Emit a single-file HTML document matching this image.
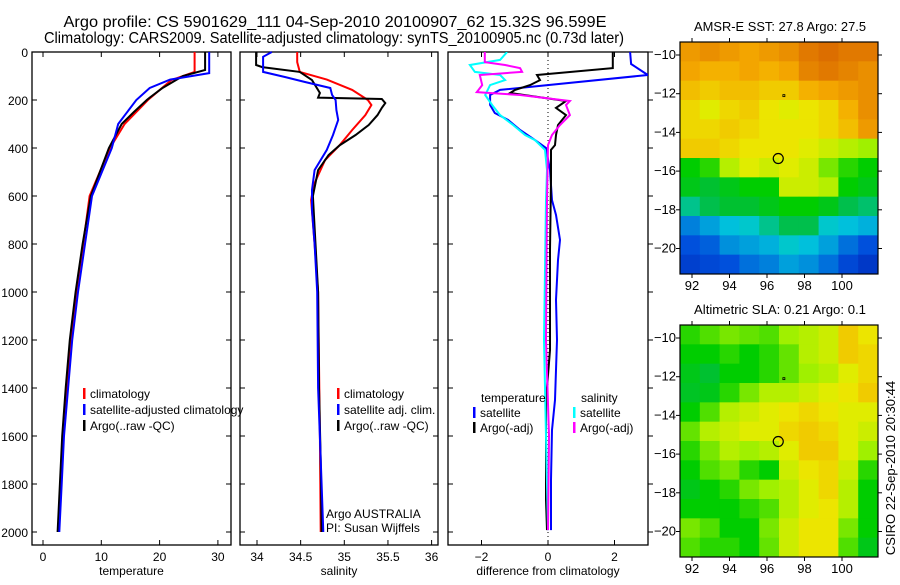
<!DOCTYPE html>
<html><head><meta charset="utf-8"><style>
body{margin:0;background:#fff;}
svg{font-family:"Liberation Sans",sans-serif;}
</style></head><body>
<svg id="fig" width="900" height="580" viewBox="0 0 900 580" xmlns="http://www.w3.org/2000/svg">
<rect width="900" height="580" fill="#fff"/>
<text x="335" y="27" font-size="16" text-anchor="middle" textLength="543" lengthAdjust="spacingAndGlyphs">Argo profile: CS 5901629_111 04-Sep-2010 20100907_62 15.32S 96.599E</text>
<text x="334" y="43" font-size="16" text-anchor="middle" textLength="580" lengthAdjust="spacingAndGlyphs">Climatology: CARS2009. Satellite-adjusted climatology: synTS_20100905.nc (0.73d later)</text>
<g id="g"></g>
<text transform="translate(895,468) rotate(-90)" font-size="13" text-anchor="middle">CSIRO 22-Sep-2010 20:30:44</text>
</svg>
<script>
// ---- Panel 1: temperature ----
const tClimDepth=[0,83,117,200,300,400,600,800,1000,1200,1400,1600,1800,2000];
const tClimVal=[26,26,22,18,14,11.5,8,6.9,5.7,4.8,4.1,3.4,3.1,2.7];
const tArgoDepth=[0,75,100,150,190,200,250,300,400,600,800,1000,1200,1400,1600,1800,2000];
const tArgoVal=[27.8,27.8,24,20.5,18.3,17.8,15.6,13.5,11.3,8.2,6.8,5.6,4.6,3.9,3.3,2.9,2.5];
const tSatDepth=[0,88,115,150,200,300,400,600,800,1000,1200,1400,1600,1800,2000];
const tSatVal=[28.5,28.5,21.8,18.3,16,12.9,11.8,8.4,7.2,6,5,4.3,3.6,3.2,2.8];
const tTicks=[0,10,20,30];
// ---- Panel 2: salinity ----
const sClimDepth=[0,42,83,115,158,200,221,263,325,387,450,554,617,800,1000,1300,1600,2000];
const sClimVal=[34.46,34.46,34.49,34.8,35.09,35.27,35.31,35.24,35.09,34.95,34.78,34.65,34.62,34.66,34.70,34.71,34.72,34.73];
const sArgoDepth=[0,54,63,83,117,171,190,196,213,233,263,304,346,388,429,492,600,800,1000,1400,1700,2000];
const sArgoVal=[33.99,33.99,34.06,34.49,34.63,34.72,34.7,35.43,35.47,35.43,35.38,35.28,35.13,34.95,34.82,34.7,34.64,34.67,34.7,34.71,34.73,34.74];
const sSatDepth=[0,20,83,104,125,150,179,200,242,283,346,408,492,575,658,800,1000,1400,1800,2000];
const sSatVal=[34.17,34.07,34.07,34.32,34.55,34.84,34.86,34.9,34.91,34.93,34.87,34.8,34.66,34.63,34.63,34.66,34.69,34.7,34.74,34.76];
const sTicks=[34,34.5,35,35.5,36];
// ---- Panel 3: differences ----
const dTSatDepth=[0,50,96,158,179,221,254,283,325,367,400,492,617,679,783,867,1033,1200,1450,1575,1783,1992];
const dTSatVal=[2.47,2.5,3.0,-1.44,-1.74,-1.74,-1.6,-1.2,-0.84,-0.39,-0.06,0.06,0.12,0.24,0.36,0.3,0.24,0.27,0.21,0.12,0.09,0.09];
const dTArgoDepth=[0,67,96,117,138,158,171,204,233,263,304,346,388,408,533,825,1242,1450,1867,1992];
const dTArgoVal=[1.95,1.95,-0.33,-0.24,-0.54,-0.99,-1.14,0.54,0.24,0.54,0.3,0.24,0.21,0.09,0.09,0.06,0.06,-0.06,-0.06,-0.03];
const dSSatDepth=[0,33,54,83,96,117,138,179,221,263,304,346,367,408,492,617,1200,1600,1992];
const dSSatVal=[-1.23,-1.44,-2.35,-2.2,-1.44,-1.29,-1.74,-1.89,-1.68,-1.44,-1.05,-0.69,-0.39,-0.09,-0.03,-0.06,-0.12,-0.06,0];
const dSArgoDepth=[0,42,54,67,83,96,138,167,179,204,221,263,304,346,388,617,1200,1600,1992];
const dSArgoVal=[-1.9,-1.9,-1.29,-0.84,-0.78,-2.05,-1.98,-2.14,-0.84,0.66,0.54,0.66,0.36,0.12,0,-0.03,-0.06,0.03,0];
const dTicks=[-2,0,2];
const depthTicks=[0,200,400,600,800,1000,1200,1400,1600,1800,2000];
// ---- Maps (colour index 0..1, rows north->south) ----
const sstGrid=[
[.78,.8,.78,.76,.78,.8,.84,.86,.84,.84],
[.76,.74,.74,.76,.74,.76,.82,.84,.82,.8],
[.72,.7,.72,.72,.7,.7,.74,.76,.78,.8],
[.68,.64,.68,.7,.66,.64,.66,.68,.74,.8],
[.68,.68,.7,.68,.66,.66,.66,.68,.72,.78],
[.7,.7,.68,.66,.66,.66,.64,.62,.6,.58],
[.5,.52,.6,.64,.62,.64,.62,.56,.52,.5],
[.48,.46,.48,.5,.5,.62,.62,.6,.5,.48],
[.4,.44,.46,.46,.48,.5,.5,.48,.44,.42],
[.26,.3,.34,.36,.4,.44,.44,.36,.34,.32],
[.2,.22,.28,.3,.32,.36,.34,.3,.24,.2],
[.16,.18,.2,.24,.26,.3,.28,.24,.18,.14]];
const slaGrid=[
[.52,.54,.56,.55,.54,.58,.6,.62,.7,.66],
[.5,.5,.52,.5,.52,.55,.6,.62,.7,.68],
[.48,.46,.5,.5,.52,.55,.58,.6,.64,.68],
[.47,.48,.52,.56,.6,.6,.62,.64,.66,.7],
[.5,.54,.6,.62,.64,.66,.68,.66,.64,.64],
[.55,.6,.62,.64,.64,.68,.7,.68,.64,.62],
[.52,.56,.6,.58,.6,.64,.7,.7,.64,.58],
[.5,.54,.56,.52,.5,.62,.66,.68,.62,.52],
[.48,.5,.52,.56,.58,.6,.64,.68,.6,.5],
[.5,.5,.5,.52,.54,.6,.64,.66,.6,.5],
[.56,.54,.5,.5,.56,.62,.66,.66,.56,.5],
[.54,.52,.52,.5,.55,.62,.66,.66,.54,.48]];
const lonTicks=[92,94,96,98,100];
const latTicks=[-10,-12,-14,-16,-18,-20];
const floatPos=[96.6,-15.35];
const prevPos=[96.9,-12.1];

const NS='http://www.w3.org/2000/svg';
const G=document.getElementById('g');
function mk(tag,attrs,parent){const e=document.createElementNS(NS,tag);for(const k in attrs)e.setAttribute(k,attrs[k]);(parent||G).appendChild(e);return e;}
const yD=d=>52+d*0.24;

function panel(name,x0,x1,xScale,ticks,fmt,label,leftLabels,rightOut){
  const g=mk('g',{});
  
  
  const fr=mk('rect',{x:x0,y:52,width:x1-x0,height:493,fill:'none',stroke:'#000','stroke-width':1.3},g);
  
  
  depthTicks.forEach(d=>{
    const y=yD(d);
    mk('line',{x1:x0,x2:x0+5,y1:y,y2:y,stroke:'#000'},g);
    if(rightOut) mk('line',{x1:x1,x2:x1+5,y1:y,y2:y,stroke:'#000'},g);
    else mk('line',{x1:x1-5,x2:x1,y1:y,y2:y,stroke:'#000'},g);
    if(leftLabels){const t=mk('text',{x:x0-4,y:y+5,'font-size':12,'text-anchor':'end'},g);t.textContent=d;
      
      }
  });
  ticks.forEach(v=>{
    const x=xScale(v);
    mk('line',{x1:x,x2:x,y1:545,y2:540,stroke:'#000'},g);
    mk('line',{x1:x,x2:x,y1:52,y2:57,stroke:'#000'},g);
    const t=mk('text',{x:x,y:561,'font-size':12,'text-anchor':'middle'},g);t.textContent=fmt(v);
    
    
  });
  const lb=mk('text',{x:(x0+x1)/2,y:575,'font-size':12,'text-anchor':'middle'},g);lb.textContent=label;
  
  
  return g;
}
function series(g,name,depths,vals,xScale,color,w){
  const pts=depths.map((d,i)=>xScale(vals[i]).toFixed(1)+','+yD(d).toFixed(1)).join(' ');
  const p=mk('polyline',{points:pts,fill:'none',stroke:color,'stroke-width':w||2,'stroke-linejoin':'miter'},g);
  
  
}
function legend(g,x,y,color,text,name){
  mk('rect',{x:x,y:y-9,width:2.5,height:11,fill:color},g);
  const t=mk('text',{x:x+7,y:y+1,'font-size':12},g);t.textContent=text;
  
  
}
// Panel 1
const xT=v=>43+v*5.83;
const p1=panel('temperature-panel',32,231,xT,tTicks,v=>v,'temperature',true,false);
series(p1,'temp-climatology-line',tClimDepth,tClimVal,xT,'#f00');
series(p1,'temp-argo-line',tArgoDepth,tArgoVal,xT,'#000');
series(p1,'temp-satellite-line',tSatDepth,tSatVal,xT,'#00f');
legend(p1,83,397,'#f00','climatology','legend-climatology');
legend(p1,83,413,'#00f','satellite-adjusted climatology','legend-satellite');
legend(p1,83,429,'#000','Argo(..raw -QC)','legend-argo');
// Panel 2
const xS=v=>257+(v-34)*87.3;
const p2=panel('salinity-panel',240,438,xS,sTicks,v=>v,'salinity',false,false);
series(p2,'sal-climatology-line',sClimDepth,sClimVal,xS,'#f00');
series(p2,'sal-argo-line',sArgoDepth,sArgoVal,xS,'#000');
series(p2,'sal-satellite-line',sSatDepth,sSatVal,xS,'#00f');
legend(p2,337,397,'#f00','climatology','legend-sal-climatology');
legend(p2,337,413,'#00f','satellite adj. clim.','legend-sal-satellite');
legend(p2,337,429,'#000','Argo(..raw -QC)','legend-sal-argo');
const a1=mk('text',{x:326,y:518,'font-size':12},p2);a1.textContent='Argo AUSTRALIA';


const a2=mk('text',{x:326,y:532,'font-size':12},p2);a2.textContent='PI: Susan Wijffels';


// Panel 3
const xD=v=>548+v*33.25;
const p3=panel('difference-panel',448,648,xD,dTicks,v=>v<0?'\u2212'+(-v):v,'difference from climatology',false,true);
mk('line',{x1:xD(0),x2:xD(0),y1:52,y2:545,stroke:'#000','stroke-dasharray':'1,3'},p3);
const c3=mk('clipPath',{id:'c3'},p3);mk('rect',{x:448,y:52,width:200,height:493},c3);
const s3=mk('g',{'clip-path':'url(#c3)'},p3);
series(s3,'diff-temp-satellite-line',dTSatDepth,dTSatVal,xD,'#00f');
series(s3,'diff-temp-argo-line',dTArgoDepth,dTArgoVal,xD,'#000');
series(s3,'diff-sal-satellite-line',dSSatDepth,dSSatVal,xD,'#0ff');
series(s3,'diff-sal-argo-line',dSArgoDepth,dSArgoVal,xD,'#f0f');
const lt=mk('text',{x:481,y:402,'font-size':12},p3);lt.textContent='temperature';


const ls=mk('text',{x:581,y:402,'font-size':12},p3);ls.textContent='salinity';


legend(p3,473,416,'#00f','satellite','legend-diff-temp-satellite');
legend(p3,473,431,'#000','Argo(-adj)','legend-diff-temp-argo');
legend(p3,573,416,'#0ff','satellite','legend-diff-sal-satellite');
legend(p3,573,431,'#f0f','Argo(-adj)','legend-diff-sal-argo');

// Maps: custom colour map
const cmStops=[[0,[0,0,150]],[0.2,[0,80,220]],[0.35,[0,200,220]],[0.45,[0,190,60]],[0.5,[0,205,0]],[0.58,[160,240,0]],[0.65,[235,235,0]],[0.75,[245,170,0]],[0.86,[220,110,0]],[1,[180,60,0]]];
function cmap(v){
  for(let i=1;i<cmStops.length;i++){
    if(v<=cmStops[i][0]){
      const [a,ca]=cmStops[i-1],[b,cb]=cmStops[i];const t=(v-a)/(b-a);
      return 'rgb('+ca.map((c,k)=>Math.round(c+(cb[k]-c)*t)).join(',')+')';
    }
  }
  return 'rgb(180,60,0)';
}
function map(name,top,grid,title){
  const g=mk('g',{});
  
  
  const x0=680,x1=878,h=232;
  const lonX=l=>692+(l-92)*18.75;
  const latY=l=>top+13+(-10-l)*19.35;
  const rows=grid.length,cols=grid[0].length,cw=(x1-x0)/cols,ch=h/rows;
  grid.forEach((row,i)=>row.forEach((v,j)=>{
    const r=mk('rect',{x:x0+j*cw,y:top+i*ch,width:cw+0.5,height:ch+0.5,fill:cmap(v)},g);
    
    
  }));
  mk('rect',{x:x0,y:top,width:x1-x0,height:h,fill:'none',stroke:'#000','stroke-width':1.2},g);
  lonTicks.forEach(l=>{const x=lonX(l);
    mk('line',{x1:x,x2:x,y1:top+h,y2:top+h+4,stroke:'#000'},g);
    mk('line',{x1:x,x2:x,y1:top,y2:top-4,stroke:'#000'},g);
    const t=mk('text',{x:x,y:top+h+16,'font-size':13,'text-anchor':'middle'},g);t.textContent=l;
    
    });
  latTicks.forEach(l=>{const y=latY(l);
    mk('line',{x1:x0-4,x2:x0,y1:y,y2:y,stroke:'#000'},g);
    mk('line',{x1:x1,x2:x1+4,y1:y,y2:y,stroke:'#000'},g);
    const t=mk('text',{x:x0-4,y:y+4,'font-size':13,'text-anchor':'end'},g);t.textContent='\u2212'+(-l);
    
    });
  const c=mk('circle',{cx:lonX(floatPos[0]),cy:latY(floatPos[1]),r:5,fill:'none',stroke:'#000','stroke-width':1.2},g);
  
  
  mk('rect',{x:lonX(prevPos[0])-1,y:latY(prevPos[1])-1,width:2,height:2,fill:'none',stroke:'#000','stroke-width':0.8},g);
  const t=mk('text',{x:780,y:top-11,'font-size':13,'text-anchor':'middle','textLength':172,'lengthAdjust':'spacingAndGlyphs'},g);t.textContent=title;
  
  
}
map('sst-map',42,sstGrid,'AMSR-E SST: 27.8 Argo: 27.5');
map('sla-map',325,slaGrid,'Altimetric SLA: 0.21 Argo: 0.1');
</script>
</body></html>
